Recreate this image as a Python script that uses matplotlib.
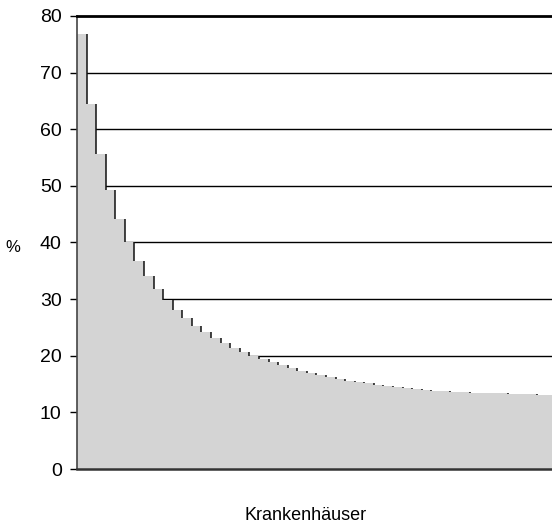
import matplotlib
matplotlib.use("Agg")
import matplotlib.pyplot as plt

plt.rcParams['font.family'] = ['Liberation Sans', 'DejaVu Sans']

# share per hospital, sorted descending (%)
values = [76.8, 64.4, 55.7, 49.2, 44.2, 40.1, 36.8, 34.0, 31.7, 29.9,
          28.1, 26.7, 25.3, 24.2, 23.2, 22.2, 21.4, 20.7, 19.9, 19.5,
          18.9, 18.3, 17.9, 17.3, 17.0, 16.6, 16.3, 15.9, 15.6, 15.3,
          15.1, 14.8, 14.6, 14.5, 14.3, 14.2, 14.0, 13.8, 13.7, 13.6,
          13.55, 13.5, 13.45, 13.4, 13.35, 13.3, 13.25, 13.2, 13.15, 13.1]
yticks = [0, 10, 20, 30, 40, 50, 60, 70, 80]

fig = plt.figure(figsize=(5.52, 5.26), dpi=100)
ax = fig.add_axes([77/552, 1 - 469/526, 1 - 77/552, (469 - 16)/526])

x = list(range(len(values)))
ax.bar(x, values, width=1.0, align='edge', color='#d4d4d4', linewidth=0, zorder=2)

# step edges on the right side of each bar
for i in range(len(values) - 1):
    ax.vlines(i + 1, values[i + 1], values[i], color='#111111', lw=1.1, zorder=3)

for t in yticks[1:-1]:
    ax.axhline(t, color='black', lw=1.0, zorder=1)

ax.set_xlim(0, 49.6)
ax.set_ylim(0, 80)
ax.set_yticks(yticks)
ax.set_xticks([])
ax.tick_params(axis='y', direction='out', length=5, width=1, labelsize=14, pad=6)

ax.spines['right'].set_visible(False)
ax.spines['top'].set_linewidth(2)
ax.spines['top'].set_color('black')
ax.spines['bottom'].set_linewidth(1.8)
ax.spines['bottom'].set_color('#333333')
ax.spines['left'].set_linewidth(1.2)
ax.spines['left'].set_color('#444444')

fig.text(13/552, 1 - 248/526, '%', fontsize=12, ha='center', va='center')
fig.text(306/552, 1 - 516/526, 'Krankenhäuser', fontsize=13, ha='center', va='center')

fig.savefig('out.png', dpi=100)
